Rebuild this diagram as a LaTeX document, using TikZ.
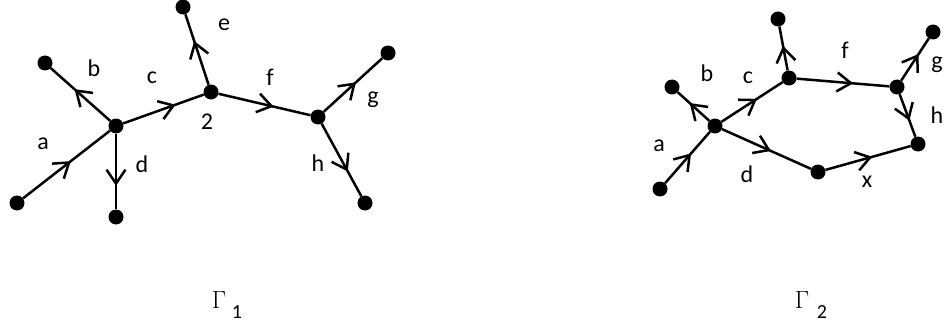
\documentclass[tikz,border=0pt]{standalone}
\usepackage{fontspec}
\setmainfont{Carlito}
\usetikzlibrary{arrows.meta,decorations.markings}
\tikzset{
  dot/.style={circle,fill=black,inner sep=0pt,minimum size=15pt},
  lbl/.style={inner sep=0pt,font=\fontsize{24}{28}\selectfont},
  edge/.style={line width=2.5pt},
  mid/.style={decoration={markings,mark=at position #1 with {\arrow{Straight Barb[length=14pt,width=19pt,line width=2.5pt]}}},postaction={decorate}},
  mid/.default=0.55
}
\begin{document}
\begin{tikzpicture}[x=1pt,y=-1pt]
\useasboundingbox (0,0) rectangle (945,329);
% Graph 1
\node[dot] (a1) at (17,203) {};
\node[dot] (v1) at (116,126) {};
\node[dot] (b1) at (45,63) {};
\node[dot] (d1) at (116,217) {};
\node[dot] (n1) at (211,92) {};
\node[dot] (e1) at (183,7) {};
\node[dot] (w1) at (318,117) {};
\node[dot] (g1) at (388,53) {};
\node[dot] (h1) at (365,203) {};
\draw[edge,mid=0.55] (a1) -- (v1);
\draw[edge,mid=0.6] (v1) -- (b1);
\draw[edge,mid=0.69] (v1) -- (d1);
\draw[edge,mid=0.65] (v1) -- (n1);
\draw[edge,mid=0.62] (n1) -- (e1);
\draw[edge,mid=0.6] (n1) -- (w1);
\draw[edge,mid=0.55] (w1) -- (g1);
\draw[edge,mid=0.66] (w1) -- (h1);
\node[lbl] (la1) at (43,144) {a};
\node[lbl] (lb1) at (94,68) {b};
\node[lbl] (lc1) at (152,78) {c};
\node[lbl] (ld1) at (142,164) {d};
\node[lbl] (le1) at (224,25) {e};
\node[lbl] (lf1) at (270,77) {f};
\node[lbl] (lg1) at (373,100) {g};
\node[lbl] (lh1) at (318,163) {h};
\node[lbl] (l21) at (207,122) {2};
% Graph 2
\node[dot] (a2) at (660,189) {};
\node[dot] (v2) at (715,126) {};
\node[dot] (b2) at (672,87) {};
\node[dot] (n2) at (789,78) {};
\node[dot] (e2) at (778,19) {};
\node[dot] (w2) at (897,87) {};
\node[dot] (g2) at (933,32) {};
\node[dot] (h2) at (918,144) {};
\node[dot] (d2) at (818,172) {};
\draw[edge,mid=0.58] (a2) -- (v2);
\draw[edge,mid=0.62] (v2) -- (b2);
\draw[edge,mid=0.58] (v2) -- (n2);
\draw[edge,mid=0.56] (n2) -- (e2);
\draw[edge,mid=0.61] (n2) -- (w2);
\draw[edge,mid=0.63] (w2) -- (g2);
\draw[edge,mid=0.62] (w2) -- (h2);
\draw[edge,mid=0.55] (v2) -- (d2);
\draw[edge,mid=0.55] (d2) -- (h2);
\node[lbl] (la2) at (659,146) {a};
\node[lbl] (lb2) at (707,73) {b};
\node[lbl] (lc2) at (748,78) {c};
\node[lbl] (ld2) at (747,174) {d};
\node[lbl] (lf2) at (845,50) {f};
\node[lbl] (lg2) at (937,65) {g};
\node[lbl] (lh2) at (937,115) {h};
\node[lbl] (lx2) at (867,182) {x};
% Gamma labels
\node[inner sep=0pt,font=\fontsize{26}{30}\selectfont] (G1) at (219,300) {$\Gamma$};
\node[inner sep=0pt,font=\fontsize{20}{24}\selectfont] (s1) at (237,312) {1};
\node[inner sep=0pt,font=\fontsize{26}{30}\selectfont] (G2) at (802,300) {$\Gamma$};
\node[inner sep=0pt,font=\fontsize{20}{24}\selectfont] (s2) at (822,312) {2};
\end{tikzpicture}
\end{document}
